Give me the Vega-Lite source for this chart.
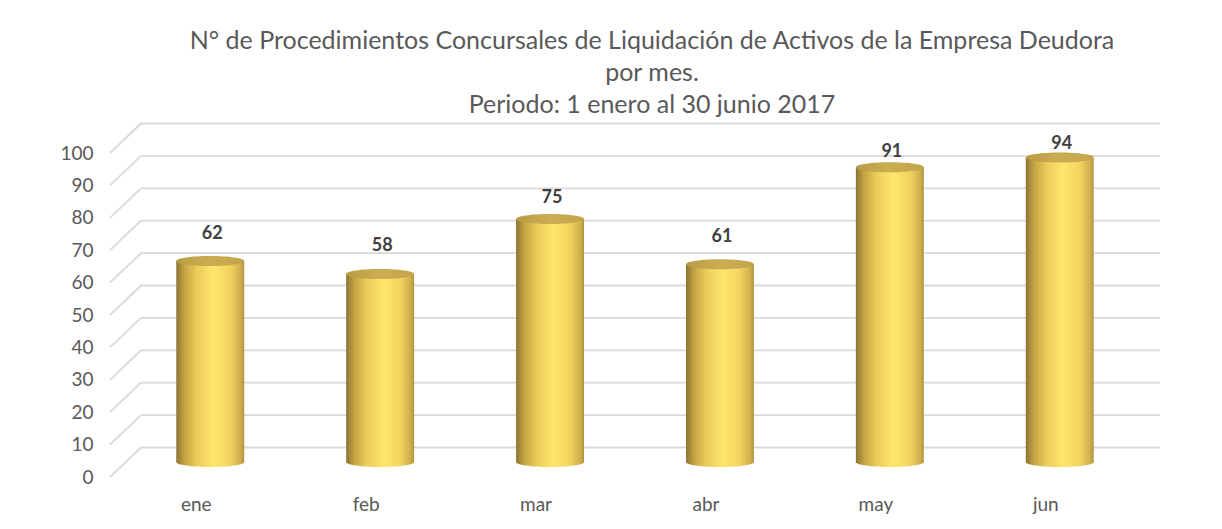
{
  "$schema": "https://vega.github.io/schema/vega-lite/v6.json",
  "width": 1050,
  "height": 324,
  "autosize": {"type": "none"},
  "padding": {"left": 110, "top": 153, "right": 62, "bottom": 52},
  "background": "white",
  "config": {
    "view": {"stroke": null},
    "font": "Lato"
  },
  "title": {
    "text": ["N° de Procedimientos Concursales de Liquidación de Activos de la Empresa Deudora", "por mes.", "Periodo: 1 enero al 30 junio 2017"],
    "font": "Lato",
    "fontSize": 25,
    "fontWeight": "normal",
    "color": "#595959",
    "lineHeight": 32,
    "anchor": "middle",
    "frame": "group",
    "dx": 17,
    "offset": 5
  },
  "datasets": {
    "months": [
      {"mes": "ene", "valor": 62},
      {"mes": "feb", "valor": 58},
      {"mes": "mar", "valor": 75},
      {"mes": "abr", "valor": 61},
      {"mes": "may", "valor": 91},
      {"mes": "jun", "valor": 94}
    ],
    "grid": [
      {"v": 0}, {"v": 10}, {"v": 20}, {"v": 30}, {"v": 40}, {"v": 50},
      {"v": 60}, {"v": 70}, {"v": 80}, {"v": 90}, {"v": 100}
    ]
  },
  "resolve": {"scale": {"x": "independent", "y": "independent"}, "axis": {"x": "independent", "y": "independent"}},
  "layer": [
    {
      "data": {"name": "grid"},
      "mark": {"type": "rule", "color": "#D9D9D9", "strokeWidth": 1.8, "y2Offset": -29.5},
      "encoding": {
        "x": {"datum": 0, "type": "quantitative", "scale": {"domain": [0, 1050], "nice": false, "zero": false}, "axis": null},
        "x2": {"datum": 31},
        "y": {"field": "v", "type": "quantitative", "scale": {"domain": [0, 100], "nice": false}, "axis": null},
        "y2": {"field": "v"}
      }
    },
    {
      "data": {"name": "grid"},
      "mark": {"type": "rule", "color": "#D9D9D9", "strokeWidth": 1.8, "yOffset": -29.5},
      "encoding": {
        "x": {"datum": 31, "type": "quantitative", "scale": {"domain": [0, 1050], "nice": false, "zero": false}, "axis": null},
        "x2": {"datum": 1050},
        "y": {"field": "v", "type": "quantitative", "scale": {"domain": [0, 100], "nice": false},
          "axis": {"values": [0, 10, 20, 30, 40, 50, 60, 70, 80, 90, 100], "domain": false, "ticks": false, "grid": false, "title": null,
            "labelFont": "Lato", "labelFontSize": 19, "labelColor": "#595959", "labelPadding": 17}}
      }
    },
    {
      "data": {"name": "months"},
      "mark": {
        "type": "point", "filled": true, "opacity": 1, "size": 4624, "yOffset": -15,
        "shape": "M -1 0 A 1 0.147 0 1 0 1 0 A 1 0.147 0 1 0 -1 0 Z",
        "fill": {"gradient": "linear", "x1": 0, "y1": 0, "x2": 1, "y2": 0, "stops": [
          {"offset": 0, "color": "#8C7434"}, {"offset": 0.12, "color": "#C4A443"}, {"offset": 0.3, "color": "#EBCB58"},
          {"offset": 0.55, "color": "#FFE66E"}, {"offset": 0.8, "color": "#F2D25E"}, {"offset": 0.95, "color": "#CDAE4C"}, {"offset": 1, "color": "#B0943E"}]},
        "stroke": null
      },
      "encoding": {
        "x": {"field": "mes", "type": "nominal", "sort": null, "scale": {"type": "band", "paddingInner": 0.6, "paddingOuter": 0.39}, "axis": null},
        "y": {"datum": 0, "type": "quantitative", "scale": {"domain": [0, 100], "nice": false}, "axis": null}
      }
    },
    {
      "data": {"name": "months"},
      "mark": {
        "type": "bar", "yOffset": -15, "y2Offset": -15,
        "fill": {"gradient": "linear", "x1": 0, "y1": 0, "x2": 1, "y2": 0, "stops": [
          {"offset": 0, "color": "#8C7434"}, {"offset": 0.12, "color": "#C4A443"}, {"offset": 0.3, "color": "#EBCB58"},
          {"offset": 0.55, "color": "#FFE66E"}, {"offset": 0.8, "color": "#F2D25E"}, {"offset": 0.95, "color": "#CDAE4C"}, {"offset": 1, "color": "#B0943E"}]}
      },
      "encoding": {
        "x": {"field": "mes", "type": "nominal", "sort": null, "scale": {"type": "band", "paddingInner": 0.6, "paddingOuter": 0.39},
          "axis": {"title": null, "labelAngle": 0, "domain": false, "ticks": false, "labelOffset": -14, "labelPadding": 18,
            "labelFont": "Lato", "labelFontSize": 19, "labelColor": "#595959"}},
        "y": {"field": "valor", "type": "quantitative", "scale": {"domain": [0, 100], "nice": false}, "axis": null},
        "y2": {"datum": 0}
      }
    },
    {
      "data": {"name": "months"},
      "mark": {
        "type": "point", "filled": true, "opacity": 1, "size": 4624, "yOffset": -15,
        "shape": "M -1 0 A 1 0.147 0 1 0 1 0 A 1 0.147 0 1 0 -1 0 Z",
        "fill": {"gradient": "linear", "x1": 0, "y1": 0, "x2": 1, "y2": 0, "stops": [
          {"offset": 0, "color": "#B99C45"}, {"offset": 0.5, "color": "#CBAD52"}, {"offset": 1, "color": "#C2A44B"}]},
        "stroke": null
      },
      "encoding": {
        "x": {"field": "mes", "type": "nominal", "sort": null, "scale": {"type": "band", "paddingInner": 0.6, "paddingOuter": 0.39}, "axis": null},
        "y": {"field": "valor", "type": "quantitative", "scale": {"domain": [0, 100], "nice": false}, "axis": null}
      }
    },
    {
      "data": {"name": "months"},
      "mark": {"type": "text", "font": "Lato", "fontSize": 18, "fontWeight": "bold", "color": "#404040", "baseline": "middle", "dx": 2},
      "encoding": {
        "x": {"field": "mes", "type": "nominal", "sort": null, "scale": {"type": "band", "paddingInner": 0.6, "paddingOuter": 0.39}, "axis": null},
        "y": {"field": "valor", "type": "quantitative", "scale": {"domain": [-23.51, 90.69], "nice": false, "zero": false}, "axis": null},
        "text": {"field": "valor", "type": "quantitative"}
      }
    }
  ]
}
